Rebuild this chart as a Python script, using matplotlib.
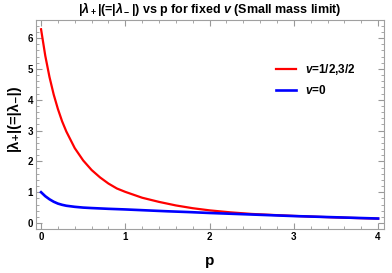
import matplotlib
matplotlib.use('Agg')
import matplotlib.pyplot as plt
from matplotlib.ticker import MultipleLocator

plt.rcParams['font.family'] = ['Liberation Sans', 'DejaVu Sans']
plt.rcParams['mathtext.fontset'] = 'custom'
plt.rcParams['mathtext.rm'] = 'Liberation Sans:bold'
plt.rcParams['mathtext.it'] = 'Liberation Sans:bold:italic'
plt.rcParams['mathtext.bf'] = 'Liberation Sans:bold'

# values
p_red = [0.0, 0.05, 0.1, 0.15, 0.2, 0.25, 0.3, 0.4, 0.5, 0.6, 0.7, 0.8, 0.9, 1.0,
         1.2, 1.4, 1.6, 1.8, 2.0, 2.25, 2.5, 2.75, 3.0, 3.25, 3.5, 3.75, 4.0]
lam_red = [6.29, 5.43, 4.74, 4.17, 3.70, 3.30, 2.97, 2.43, 2.03, 1.72, 1.48, 1.28, 1.12, 1.01,
           0.82, 0.685, 0.57, 0.48, 0.41, 0.345, 0.294, 0.261, 0.23, 0.204, 0.18, 0.16, 0.142]
p_blue = [0.0, 0.05, 0.1, 0.15, 0.2, 0.25, 0.3, 0.4, 0.5, 0.6, 0.8, 1.0, 1.25, 1.5,
          1.75, 2.0, 2.25, 2.5, 2.75, 3.0, 3.25, 3.5, 3.75, 4.0]
lam_blue = [1.0, 0.87, 0.77, 0.69, 0.63, 0.59, 0.56, 0.525, 0.50, 0.485, 0.46, 0.44, 0.41, 0.38,
            0.355, 0.325, 0.30, 0.275, 0.25, 0.225, 0.205, 0.185, 0.165, 0.145]

fig = plt.figure(figsize=(3.92, 2.73), dpi=100)
ax = fig.add_axes([36 / 392, 1 - 229 / 273, 348 / 392, 209 / 273])

ax.plot(p_red, lam_red, color='#ff0000', lw=1.6, label=r'$v$=1/2,3/2')
ax.plot(p_blue, lam_blue, color='#0000ff', lw=1.9, label=r'$v$=0')

ax.set_xlim(-0.06, 4.07)
ax.set_ylim(-0.195, 6.59)
ax.xaxis.set_major_locator(MultipleLocator(1))
ax.xaxis.set_minor_locator(MultipleLocator(0.2))
ax.yaxis.set_major_locator(MultipleLocator(1))
ax.yaxis.set_minor_locator(MultipleLocator(0.2))
ax.tick_params(which='both', direction='in', top=True, right=True, color='#999999',
               labelsize=7, pad=2)
ax.tick_params(which='major', length=4, width=0.8)
ax.tick_params(which='minor', length=2, width=0.6)
for lbl in ax.get_xticklabels() + ax.get_yticklabels():
    lbl.set_fontweight('bold')
for s in ax.spines.values():
    s.set_color('#a0a0a0')
    s.set_linewidth(0.8)

ax.set_xlabel('p', fontsize=11, fontweight='bold', labelpad=9)
fig.text(14 / 392, 1 - 118 / 273, '|λ₊|(=|λ₋|)', rotation=90, ha='center', va='center',
         fontsize=10.5, fontweight='bold')
ax.set_title(r'$|\lambda_+|$(=$|\lambda_-|$) vs p for fixed $v$ (Small mass limit)',
             fontsize=9, fontweight='bold', pad=5)

leg = ax.legend(loc='upper right', bbox_to_anchor=(0.95, 0.85), frameon=False, fontsize=8.5,
                handlelength=1.7, labelspacing=0.6)
for t in leg.get_texts():
    t.set_fontweight('bold')

fig.savefig('out.png', dpi=100)
